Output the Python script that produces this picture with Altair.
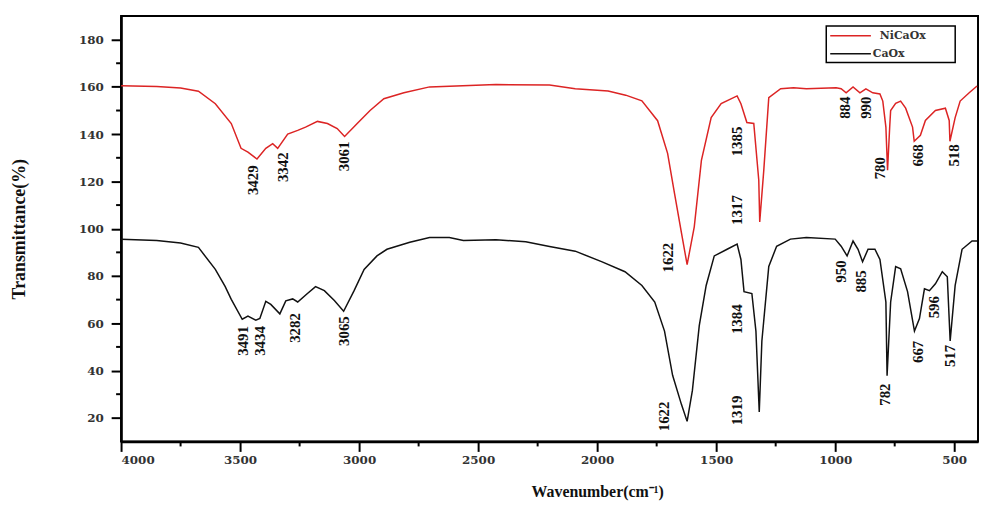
import altair as alt
import pandas as pd

# ---------------- data ----------------
series_names = ["NiCaOx", "CaOx"]
series_colors = ["#dc2424", "#111111"]

red_x = [4000, 3850, 3750, 3675, 3604, 3537, 3496, 3467, 3429, 3392, 3363, 3342, 3300,
         3258, 3225, 3175, 3133, 3092, 3061, 3008, 2954, 2896, 2812, 2704, 2425, 2200,
         2092, 1954, 1880, 1812, 1746, 1704, 1675, 1646, 1622, 1592, 1562, 1521, 1479,
         1412, 1396, 1371, 1342, 1321, 1317, 1300, 1279, 1229, 1175, 1121, 996, 975,
         954, 925, 896, 871, 842, 812, 800, 787, 780, 771, 767, 746, 725, 704, 675,
         668, 642, 621, 579, 537, 521, 518, 496, 475, 437, 404]
red_y = [160.5, 160.2, 159.5, 158.2, 152.9, 144.5, 134.0, 132.4, 129.5, 134.0, 136.0, 134.0, 140.0,
         141.6, 143.0, 145.4, 144.5, 142.4, 139.0, 144.5, 150.0, 155.0, 157.5, 160.0, 161.0, 160.8,
         159.2, 158.3, 156.5, 154.1, 145.7, 131.9, 115.0, 98.3, 84.8, 100.8, 128.9, 147.0, 152.9,
         156.2, 152.9, 144.9, 144.5, 120.5, 102.9, 124.7, 155.4, 159.2, 159.6, 159.2, 159.6, 159.2,
         157.5, 160.0, 157.5, 159.2, 157.5, 157.0, 154.0, 143.0, 124.7, 143.0, 150.0, 153.0, 154.0,
         151.0, 143.0, 137.0, 139.5, 145.8, 150.0, 151.0, 145.8, 137.0, 147.0, 154.0, 157.5, 160.4]

black_x = [4000, 3850, 3750, 3675, 3604, 3563, 3537, 3491, 3467, 3434, 3417, 3392, 3371,
           3333, 3308, 3279, 3258, 3217, 3183, 3146, 3104, 3065, 3021, 2979, 2925, 2883,
           2787, 2704, 2621, 2562, 2425, 2300, 2200, 2092, 1979, 1883, 1812, 1758, 1717,
           1683, 1646, 1622, 1600, 1571, 1542, 1508, 1454, 1412, 1396, 1383, 1350, 1333,
           1319, 1308, 1279, 1246, 1188, 1121, 1000, 975, 950, 925, 904, 885, 862, 833,
           812, 787, 782, 767, 746, 725, 696, 667, 646, 625, 604, 579, 550, 529, 517,
           496, 467, 425, 404]
black_y = [95.5, 95.0, 94.0, 92.1, 82.8, 75.6, 70.1, 61.7, 63.0, 61.3, 62.0, 69.3, 68.0,
           64.0, 69.5, 70.3, 69.0, 72.6, 75.5, 73.8, 69.6, 65.1, 73.8, 82.8, 88.5, 91.3,
           94.3, 96.3, 96.3, 95.0, 95.3, 94.5, 92.5, 90.5, 86.0, 81.8, 76.0, 69.0, 56.7,
           38.0, 25.7, 18.5, 31.5, 59.0, 76.0, 88.5, 91.3, 93.5, 87.0, 73.4, 72.6, 56.7,
           22.5, 52.5, 84.0, 92.6, 95.6, 96.3, 95.6, 92.6, 88.5, 94.8, 91.3, 86.0, 91.3, 91.3,
           87.0, 69.0, 37.8, 69.0, 84.0, 83.0, 73.4, 56.7, 62.0, 74.6, 73.8, 76.7, 81.8, 79.7, 52.5,
           76.0, 91.3, 94.8, 94.8]

# peak annotations
red_label_text = ["3429", "3342", "3061", "1622", "1385", "1317", "884", "990", "780", "668", "518"]
red_label_x = [3446, 3321, 3062, 1704, 1412, 1412, 958, 871, 812, 654, 500]
red_label_y = [120.5, 126.0, 130.6, 87.8, 136.9, 107.9, 151.2, 151.2, 125.6, 131.0, 131.0]

black_label_text = ["3491", "3434", "3282", "3065", "1622", "1384", "1319", "950", "885",
                    "782", "667", "596", "517"]
black_label_x = [3487, 3417, 3271, 3062, 1717, 1412, 1412, 975, 892, 792, 654, 583, 517]
black_label_y = [52.5, 52.5, 58.0, 56.7, 20.6, 61.7, 23.1, 81.9, 77.7, 29.8, 47.9, 66.8, 46.2]

x_ticks = [4000, 3500, 3000, 2500, 2000, 1500, 1000, 500]
x_minor = [3750, 3250, 2750, 2250, 1750, 1250, 750]
y_ticks = [20, 40, 60, 80, 100, 120, 140, 160, 180]
y_minor = [30, 50, 70, 90, 110, 130, 150, 170]

# ---------------- tables ----------------
lines_df = pd.concat([
    pd.DataFrame({"x": red_x, "y": red_y, "series": series_names[0]}),
    pd.DataFrame({"x": black_x, "y": black_y, "series": series_names[1]}),
])
labels_df = pd.DataFrame({
    "x": red_label_x + black_label_x,
    "y": red_label_y + black_label_y,
    "text": red_label_text + black_label_text,
})
xminor_df = pd.DataFrame({"x": x_minor})
yminor_df = pd.DataFrame({"y": y_minor})

W, H = 864, 429
SERIF = "Liberation Serif"
TICKFONT = "DejaVu Serif"

xscale = alt.Scale(domain=[400, 4000], reverse=True, nice=False, zero=False)
yscale = alt.Scale(domain=[10, 190], nice=False, zero=False)

xaxis = alt.Axis(values=x_ticks, title="Wavenumber(cm⁻¹)", titleX=480, titleY=50,
                 titleBaseline="middle", titleAlign="center", titleFont=SERIF,
                 titleFontSize=16, titleFontWeight="bold", labelPadding=3,
                 format="d")
yaxis = alt.Axis(values=y_ticks, title="Transmittance(%)", titleX=-102, titleY=H / 2,
                 titleAngle=270, titleBaseline="middle", titleAlign="center",
                 titleFont=SERIF, titleFontSize=18, titleFontWeight="bold",
                 labelPadding=8, format="d")

lines = alt.Chart(lines_df).mark_line(strokeWidth=1.5, clip=True).encode(
    x=alt.X("x:Q", scale=xscale, axis=xaxis),
    y=alt.Y("y:Q", scale=yscale, axis=yaxis),
    color=alt.Color("series:N", scale=alt.Scale(domain=series_names, range=series_colors),
                    legend=None),
    detail="series:N",
)

labels = alt.Chart(labels_df).mark_text(
    angle=270, font=SERIF, fontSize=15, fontWeight="bold", color="#111",
    align="center", baseline="middle"
).encode(x="x:Q", y="y:Q", text="text:N")

xminor = alt.Chart(xminor_df).mark_rule(color="black", strokeWidth=2).encode(
    x="x:Q", y=alt.value(H), y2=alt.value(H + 5))
yminor = alt.Chart(yminor_df).mark_rule(color="black", strokeWidth=2).encode(
    y="y:Q", x=alt.value(-5), x2=alt.value(0))

# legend box (drawn by hand, inside the plot, top right)
leg_df = pd.DataFrame({"series": series_names, "color": series_colors})
box = alt.Chart(leg_df.head(1)).mark_rect(fill="white", stroke="black", strokeWidth=1.5).encode(
    x=alt.value(711), x2=alt.value(841), y=alt.value(10), y2=alt.value(47))
leg_layers = [box]
for i, (name, col) in enumerate(zip(series_names, series_colors)):
    row = leg_df.iloc[[i]]
    ly = 20 + 18 * i
    leg_layers.append(alt.Chart(row).mark_rule(color=col, strokeWidth=1.5).encode(
        x=alt.value(715), x2=alt.value(756), y=alt.value(ly)))
    leg_layers.append(alt.Chart(row).mark_text(
        font=TICKFONT, fontSize=11, fontWeight="bold", color="#333",
        align="left", baseline="middle").encode(
        x=alt.value(765 if i == 0 else 758), y=alt.value(ly), text="series:N"))

chart = alt.layer(lines, labels, xminor, yminor, *leg_layers).properties(
    width=W, height=H,
    autosize=alt.AutoSizeParams(type="none"),
    padding={"left": 114, "top": 6, "right": 1, "bottom": 60},
).configure_view(
    stroke="black", strokeWidth=2
).configure_axis(
    grid=False, domainColor="black", domainWidth=2.5, tickColor="black",
    tickWidth=2, tickSize=10, labelFont=TICKFONT, labelFontWeight="bold",
    labelFontSize=12, labelColor="#333", titleColor="#111"
)

chart.save("out.html", embed_options={"renderer": "svg", "actions": False})
